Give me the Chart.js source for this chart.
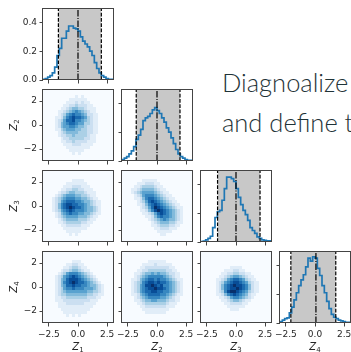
<!DOCTYPE html>
<html>
<head>
<meta charset="utf-8">
<script src="https://cdn.jsdelivr.net/npm/chart.js@4.4.0/dist/chart.umd.min.js"></script>
<style>
  html, body { margin: 0; padding: 0; background: #fff; overflow: hidden; }
  #fig { position: relative; width: 351px; height: 352px; overflow: hidden; }
  #fig canvas { position: absolute; left: 0; top: 0; }
  .lbl { position: absolute; font-family: "DejaVu Sans"; font-size: 10px; line-height: 10px; color: #262626; white-space: nowrap; }
  .lbl sub { font-size: 7px; vertical-align: -2px; line-height: 0; }
  .ylbl { transform: translate(-50%, -50%) rotate(-90deg); }
  .xlbl { transform: translateX(-50%); }
  .slide { position: absolute; left: 222px; font-family: Lato; font-weight: 300; font-size: 25.5px; line-height: 25px; color: #1f3337; white-space: nowrap; }
</style>
</head>
<body>
<div id="fig">
  <div class="slide" style="top:70px">Diagnoalize</div>
  <div class="slide" style="top:110px">and define t</div>
</div>
<script>
// ---------- data ----------
const histEdges = [-3.0, -2.8, -2.6, -2.4, -2.2, -2.0, -1.8, -1.6, -1.4, -1.2, -1.0, -0.8, -0.6, -0.4, -0.2,
  0.0, 0.2, 0.4, 0.6, 0.8, 1.0, 1.2, 1.4, 1.6, 1.8, 2.0, 2.2, 2.4, 2.6, 2.8, 3.0];

const histZ1 = [0.0, 0.005, 0.01, 0.02, 0.03, 0.05, 0.09, 0.17, 0.22, 0.29, 0.29, 0.34, 0.375, 0.375, 0.36,
  0.355, 0.34, 0.30, 0.27, 0.25, 0.23, 0.20, 0.17, 0.12, 0.08, 0.05, 0.03, 0.02, 0.01, 0.005];
const histZ2 = [0.005, 0.01, 0.02, 0.03, 0.05, 0.07, 0.10, 0.15, 0.18, 0.22, 0.28, 0.30, 0.31, 0.33, 0.355,
  0.37, 0.35, 0.33, 0.30, 0.27, 0.23, 0.20, 0.16, 0.12, 0.08, 0.05, 0.03, 0.02, 0.01, 0.005];
const histZ3 = [0.0, 0.003, 0.006, 0.015, 0.025, 0.04, 0.10, 0.17, 0.21, 0.22, 0.29, 0.37, 0.45, 0.45, 0.44,
  0.42, 0.37, 0.31, 0.26, 0.22, 0.19, 0.15, 0.10, 0.08, 0.06, 0.035, 0.025, 0.015, 0.012, 0.008];
const histZ4 = [0.005, 0.01, 0.02, 0.03, 0.035, 0.07, 0.11, 0.16, 0.21, 0.26, 0.30, 0.335, 0.39, 0.45, 0.43,
  0.46, 0.45, 0.38, 0.33, 0.26, 0.21, 0.15, 0.10, 0.06, 0.04, 0.03, 0.02, 0.015, 0.01, 0.005];

// shaded interval and centre line of each marginal
const bandLow = [-1.68, -1.78, -1.58, -2.07];
const bandMid = [0.0, 0.0, 0.0, 0.08];
const bandHigh = [2.0, 1.97, 2.06, 1.78];

// 2d histogram cell edges and counts (level 0-9, top row first)
const cellEdges = [-3.0, -2.75, -2.5, -2.25, -2.0, -1.75, -1.5, -1.25, -1.0, -0.75, -0.5, -0.25, 0.0,
  0.25, 0.5, 0.75, 1.0, 1.25, 1.5, 1.75, 2.0, 2.25, 2.5, 2.75, 3.0];

const densZ2Z1 = [
  "000000000000000000000000",
  "000000000000000000000000",
  "000000000001010000000000",
  "000000000111111000000000",
  "000000001112121100000000",
  "000000011223222110000000",
  "000000112344332111000000",
  "000001123456543211000000",
  "000001235676654221100000",
  "000011246787765321100000",
  "000012357786654321100000",
  "000012456776553321100000",
  "000012455665443221100000",
  "000011345554433221100000",
  "000001234444333221100000",
  "000001223343333211000000",
  "000000122333332211000000",
  "000000112232222111000000",
  "000000011122211110000000",
  "000000001111111100000000",
  "000000000111110000000000",
  "000000000010100000000000",
  "000000000000000000000000",
  "000000000000000000000000"];

const densZ3Z1 = [
  "000000000000000000000000",
  "000000000000000000000000",
  "000000000000000000000000",
  "000000000011110000000000",
  "000000001111111000000000",
  "000000011122211100000000",
  "000000112233221110000000",
  "000001223443332111000000",
  "000012345554433211000000",
  "000123456665544321100000",
  "000123567776654432110000",
  "000124678877665432110000",
  "000124678987765443210000",
  "000123567876665443210000",
  "000012456766554432110000",
  "000012345555444321100000",
  "000001234444333211000000",
  "000001123333322110000000",
  "000000112222211100000000",
  "000000011111111000000000",
  "000000001111100000000000",
  "000000000101000000000000",
  "000000000000000000000000",
  "000000000000000000000000"];

const densZ3Z2 = [
  "000000000000000000000000",
  "000000000000000000000000",
  "000000000000000000000000",
  "000000011111000000000000",
  "000001112221100000000000",
  "000011233332110000000000",
  "000112344443211000000000",
  "000123455554321100000000",
  "000012356665432110000000",
  "000011246776543211000000",
  "000001235787654321100000",
  "000001124678765432110000",
  "000000123579876543211000",
  "000000112468987654321000",
  "000000011235787654321000",
  "000000001124676654321000",
  "000000000123456544321000",
  "000000000012344433211000",
  "000000000011233322110000",
  "000000000001122211100000",
  "000000000000111110000000",
  "000000000000011000000000",
  "000000000000000000000000",
  "000000000000000000000000"];

const densZ4Z1 = [
  "000000000000000000000000",
  "000000000000000000000000",
  "000000000000000000000000",
  "000000000011100000000000",
  "000000001122110000000000",
  "000000011233211000000000",
  "000000122344321100000000",
  "000001235666543210000000",
  "000012356787654321000000",
  "000012457888765432100000",
  "000012467898776543210000",
  "000012457787766544321000",
  "000012356676665554321000",
  "000012345555555443321000",
  "000012334444444332211000",
  "000011223333333222110000",
  "000011122222222211100000",
  "000001112222221111000000",
  "000001111111111110000000",
  "000000111111111100000000",
  "000000011111111000000000",
  "000000001010100000000000",
  "000000000000000000000000",
  "000000000000000000000000"];

const densZ4Z2 = [
  "000000000000000000000000",
  "000000000000000000000000",
  "000000000000000000000000",
  "000000000111111000000000",
  "000000011112111110000000",
  "000000112222222211000000",
  "000001122333333221100000",
  "000011234454544322110000",
  "000012345666665432110000",
  "000112456776766543211000",
  "000123467887877654321000",
  "000123568898786654321000",
  "000123567889887654321000",
  "000123567788776654321000",
  "000112456777766543211000",
  "000012345666655432110000",
  "000011234455444322110000",
  "000001123333333211100000",
  "000000112222222111000000",
  "000000011111111100000000",
  "000000001111111000000000",
  "000000000000000000000000",
  "000000000000000000000000",
  "000000000000000000000000"];

const densZ4Z3 = [
  "000000000000000000000000",
  "000000000000000000000000",
  "000000000000000000000000",
  "000000000000000000000000",
  "000000000000000000000000",
  "000000000011110000000000",
  "000000001112211000000000",
  "000000011223322110000000",
  "000000112345543211000000",
  "000001123567765321100000",
  "000001235678876532110000",
  "000001246789887642110000",
  "000001246788987642110000",
  "000001236899876532110000",
  "000001124678765421100000",
  "000000112356654321000000",
  "000000011234432110000000",
  "000000001122221100000000",
  "000000000111111000000000",
  "000000000011100000000000",
  "000000000000000000000000",
  "000000000000000000000000",
  "000000000000000000000000",
  "000000000000000000000000"];

const xTicks = [-2.5, 0, 2.5];
const yTicksPair = [-2, 0, 2];
const yTicksHist = [0, 0.2, 0.4];
const varIndex = ["1", "2", "3", "4"];

// ---------- layout ----------
const PANEL_LEFT = [43, 122, 201, 280];
const PANEL_TOP = [8, 89, 170, 251];
const PW = 70, PH = 72;
const CANVAS_W = 400, CANVAS_H = 352;
const Y_AXIS_W = 30, X_AXIS_H = 20;

const hists = [histZ1, histZ2, histZ3, histZ4];
const pairs = { "1,0": densZ2Z1, "2,0": densZ3Z1, "2,1": densZ3Z2, "3,0": densZ4Z1, "3,1": densZ4Z2, "3,2": densZ4Z3 };

Chart.defaults.font.family = "DejaVu Sans";
Chart.defaults.font.size = 9;

const BLUES = [[247,251,255],[222,235,247],[198,219,239],[158,202,225],[107,174,214],
  [66,146,198],[33,113,181],[8,81,156],[8,48,107]];
function blues(t) {
  t = Math.max(0, Math.min(1, t));
  const p = t * (BLUES.length - 1);
  const i = Math.min(Math.floor(p), BLUES.length - 2), f = p - i;
  const a = BLUES[i], b = BLUES[i + 1];
  return "rgb(" + a.map((v, k) => Math.round(v + (b[k] - v) * f)).join(",") + ")";
}

// draws the 2d histogram cells held in dataset 0
const heatPlugin = {
  id: "heat",
  beforeDatasetsDraw(chart) {
    const { ctx, chartArea: a, scales: { x, y } } = chart;
    ctx.save();
    ctx.fillStyle = blues(0);
    ctx.fillRect(a.left, a.top, a.width, a.height);
    chart.data.datasets[0].data.forEach(c => {
      const l = Math.round(x.getPixelForValue(c.x0)), r = Math.round(x.getPixelForValue(c.x1));
      const t = Math.round(y.getPixelForValue(c.y1)), b = Math.round(y.getPixelForValue(c.y0));
      ctx.fillStyle = blues(c.v / 9);
      ctx.fillRect(l, t, r - l, b - t);
    });
    ctx.restore();
  }
};

// box around each panel
const framePlugin = {
  id: "frame",
  afterDraw(chart) {
    const { ctx, chartArea: a } = chart;
    ctx.save();
    ctx.strokeStyle = "#444";
    ctx.lineWidth = 1;
    ctx.strokeRect(Math.round(a.left) - 0.5, Math.round(a.top) + 0.5,
      Math.round(a.right) - Math.round(a.left) + 1, Math.round(a.bottom) - Math.round(a.top) - 1);
    ctx.restore();
  }
};

const minus = s => s.replace("-", "\u2212");

function axis(dir, min, max, ticks, showLabels, fmt) {
  return {
    type: "linear", min, max,
    afterBuildTicks: s => { s.ticks = ticks.map(v => ({ value: v })); },
    afterFit: s => { if (dir === "x") s.height = X_AXIS_H; else s.width = Y_AXIS_W; },
    grid: { display: true, drawOnChartArea: false, drawTicks: true, tickLength: 3.5, tickColor: "#444", tickWidth: 1 },
    border: { display: false },
    ticks: { display: showLabels, padding: 2.5, color: "#262626", autoSkip: false, maxRotation: 0, callback: fmt }
  };
}

function baseOptions(row, col) {
  const left = PANEL_LEFT[col], top = PANEL_TOP[row];
  return {
    responsive: false, animation: false, events: [],
    layout: { padding: { left: left - Y_AXIS_W, top: top, right: CANVAS_W - left - PW, bottom: CANVAS_H - top - PH - X_AXIS_H } },
    elements: { point: { radius: 0 }, line: { tension: 0 } },
    plugins: { legend: { display: false }, tooltip: { enabled: false } }
  };
}

function addCanvas() {
  const c = document.createElement("canvas");
  c.width = CANVAS_W; c.height = CANVAS_H;
  document.getElementById("fig").appendChild(c);
  return c;
}

const xFmt = v => minus(v.toFixed(1));

// marginal histograms on the diagonal
hists.forEach((h, i) => {
  const steps = [{ x: histEdges[0], y: 0 }];
  h.forEach((v, k) => steps.push({ x: histEdges[k], y: v }));
  steps.push({ x: histEdges[h.length], y: h[h.length - 1] });
  steps.push({ x: histEdges[h.length], y: 0 });
  const vline = (x, dash) => ({ data: [{ x, y: 0 }, { x, y: 0.5 }], borderColor: "#000", borderWidth: 1.2, borderDash: dash });
  const opts = baseOptions(i, i);
  opts.scales = {
    x: axis("x", -3, 3, xTicks, i === 3, xFmt),
    y: axis("y", 0, 0.5, yTicksHist, i === 0, v => v.toFixed(1))
  };
  new Chart(addCanvas(), {
    type: "line",
    data: { datasets: [
      vline(bandLow[i], [3.7, 1.6]),
      vline(bandHigh[i], [3.7, 1.6]),
      vline(bandMid[i], [6.4, 1.6, 1, 1.6]),
      { data: steps, borderColor: "#1f77b4", borderWidth: 1.7, stepped: "after" },
      { data: [{ x: bandLow[i], y: 0.5 }, { x: bandHigh[i], y: 0.5 }], fill: "origin", backgroundColor: "#c8c8c8", borderWidth: 0 }
    ] },
    options: opts,
    plugins: [framePlugin]
  });
});

// pairwise 2d histograms below the diagonal
Object.keys(pairs).forEach(key => {
  const [row, col] = key.split(",").map(Number);
  const grid = pairs[key];
  const n = cellEdges.length - 1;
  const cells = [];
  grid.forEach((line, r) => {
    for (let c = 0; c < n; c++) {
      const v = +line[c];
      if (!v) continue;
      const x0 = cellEdges[c], x1 = cellEdges[c + 1], y0 = cellEdges[n - 1 - r], y1 = cellEdges[n - r];
      cells.push({ x: (x0 + x1) / 2, y: (y0 + y1) / 2, x0, x1, y0, y1, v });
    }
  });
  const opts = baseOptions(row, col);
  opts.scales = {
    x: axis("x", -3, 3, xTicks, row === 3, xFmt),
    y: axis("y", -3, 3, yTicksPair, col === 0, v => minus(String(v)))
  };
  new Chart(addCanvas(), {
    type: "scatter",
    data: { datasets: [{ data: cells, pointRadius: 0 }] },
    options: opts,
    plugins: [heatPlugin, framePlugin]
  });
});

// axis titles
const fig = document.getElementById("fig");
varIndex.forEach((s, i) => {
  const xl = document.createElement("div");
  xl.className = "lbl xlbl";
  xl.innerHTML = "<i>Z</i><sub>" + s + "</sub>";
  xl.style.left = (PANEL_LEFT[i] + PW / 2) + "px";
  xl.style.top = "342px";
  fig.appendChild(xl);
  if (i > 0) {
    const yl = document.createElement("div");
    yl.className = "lbl ylbl";
    yl.innerHTML = "<i>Z</i><sub>" + s + "</sub>";
    yl.style.left = "14px";
    yl.style.top = (PANEL_TOP[i] + PH / 2) + "px";
    fig.appendChild(yl);
  }
});
</script>
</body>
</html>
